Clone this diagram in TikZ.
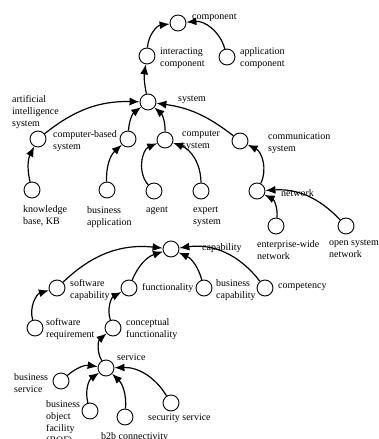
\documentclass[tikz,border=0pt]{standalone}
\usepackage{fontspec}
\setmainfont{Liberation Serif}
\usetikzlibrary{arrows.meta}

\tikzset{
  cls/.style={circle, draw, line width=0.9pt, minimum size=16pt, inner sep=0pt},
  lbl/.style={anchor=north west, align=left, inner sep=0pt, font=\fontsize{10}{12}\selectfont},
  isa/.style={-{Latex[length=10pt,width=8pt]}, line width=1.2pt},
}

\begin{document}
\begin{tikzpicture}[x=1pt,y=-1pt]
\useasboundingbox (0,0) rectangle (378,439);

% Upper hierarchy: component and system
\node[cls] (comp) at (178,23) {};
\node[cls] (icomp) at (147,56) {};
\node[cls] (acomp) at (227,57) {};
\node[cls] (sys) at (148,102) {};
\node[cls] (ais) at (38,139) {};
\node[cls] (cbs) at (128,139) {};
\node[cls] (cs) at (165,140) {};
\node[cls] (coms) at (240,141) {};
\node[cls] (kb) at (32,190) {};
\node[cls] (bapp) at (107,190) {};
\node[cls] (agent) at (154,191) {};
\node[cls] (expert) at (201,191) {};
\node[cls] (net) at (257,191) {};
\node[cls] (ewn) at (276,226) {};
\node[cls] (osn) at (346,226) {};

\node[lbl] (comp-l) at (192,14) {component};
\node[lbl] (icomp-l) at (160,48) {interacting\\component};
\node[lbl] (acomp-l) at (240,47) {application\\component};
\node[lbl] (sys-l) at (178,96) {system};
\node[lbl] (ais-l) at (12,95) {artificial\\intelligence\\system};
\node[lbl] (cbs-l) at (53,130) {computer-based\\system};
\node[lbl] (cs-l) at (182,131) {computer\\system};
\node[lbl] (coms-l) at (268,133) {communication\\system};
\node[lbl] (kb-l) at (23,205) {knowledge\\base, KB};
\node[lbl] (bapp-l) at (87,206) {business\\application};
\node[lbl] (agent-l) at (146,207) {agent};
\node[lbl] (expert-l) at (193,207) {expert\\system};
\node[lbl] (net-l) at (281,189) {network};
\node[lbl] (ewn-l) at (257,240) {enterprise-wide\\network};
\node[lbl] (osn-l) at (329,240) {open system\\network};

\draw[isa] (icomp) to[bend left=40] (comp);
\draw[isa] (acomp) to[bend right=40] (comp);
\draw[isa] (sys) to[bend left=10] (icomp);
\draw[isa] (ais) to[bend left=20] (sys);
\draw[isa] (cbs) to[bend left=25] (sys);
\draw[isa] (cs) to[bend right=25] (sys);
\draw[isa] (coms) to[bend right=15] (sys);
\draw[isa] (kb) to[bend left=20] (ais);
\draw[isa] (bapp) to[bend left=25] (cbs);
\draw[isa] (agent) to[bend left=55] (cs);
\draw[isa] (expert) to[bend right=35] (cs);
\draw[isa] (net) to[bend right=45] (coms);
\draw[isa] (ewn) to[bend right=35] (net);
\draw[isa] (osn) to[bend right=25] (net);

% Lower hierarchy: capability and service
\node[cls] (cap) at (171,249) {};
\node[cls] (swcap) at (57,288) {};
\node[cls] (func) at (129,288) {};
\node[cls] (bcap) at (204,288) {};
\node[cls] (compt) at (265,288) {};
\node[cls] (swreq) at (35,328) {};
\node[cls] (cfunc) at (113,328) {};
\node[cls] (serv) at (106,368) {};
\node[cls] (bserv) at (61,381) {};
\node[cls] (bof) at (90,411) {};
\node[cls] (b2b) at (125,417) {};
\node[cls] (secs) at (171,403) {};

\node[lbl] (cap-l) at (202,243) {capability};
\node[lbl] (swcap-l) at (70,279) {software\\capability};
\node[lbl] (func-l) at (142,283) {functionality};
\node[lbl] (bcap-l) at (216,279) {business\\capability};
\node[lbl] (compt-l) at (278,283) {competency};
\node[lbl] (swreq-l) at (46,318) {software\\requirement};
\node[lbl] (cfunc-l) at (126,318) {conceptual\\functionality};
\node[lbl] (serv-l) at (117,354) {service};
\node[lbl] (bserv-l) at (14,373) {business\\service};
\node[lbl] (bof-l) at (46,400) {business\\object\\facility\\(BOF)};
\node[lbl] (b2b-l) at (101,432) {b2b connectivity};
\node[lbl] (secs-l) at (148,414) {security service};

\draw[isa] (swcap) to[bend left=25] (cap);
\draw[isa] (func) to[bend left=25] (cap);
\draw[isa] (bcap) to[bend right=25] (cap);
\draw[isa] (compt) to[bend right=30] (cap);
\draw[isa] (swreq) to[bend left=45] (swcap);
\draw[isa] (cfunc) to[bend left=40] (func);
\draw[isa] (serv) to[bend left=40] (cfunc);
\draw[isa] (bserv) to[bend left=25] (serv);
\draw[isa] (bof) to[bend left=35] (serv);
\draw[isa] (b2b) to[bend right=25] (serv);
\draw[isa] (secs) to[bend right=30] (serv);

\end{tikzpicture}
\end{document}
